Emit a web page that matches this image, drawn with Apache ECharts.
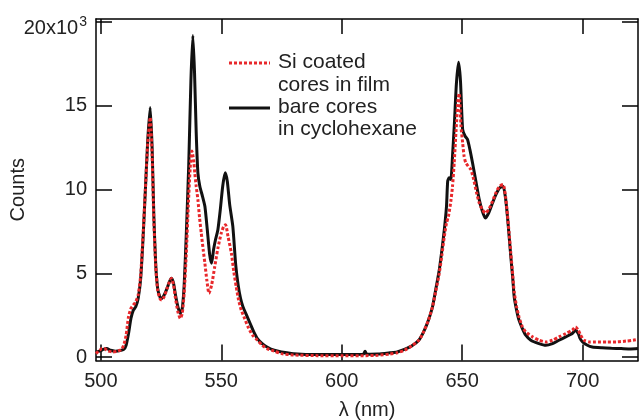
<!DOCTYPE html>
<html>
<head>
<meta charset="utf-8">
<script src="https://cdn.jsdelivr.net/npm/echarts@6/dist/echarts.min.js"></script>
<style>html,body{margin:0;padding:0;background:#fff}#c{width:639px;height:420px}</style>
</head>
<body>
<div id="c"></div>
<script>
// Tick values
var xTicks = [500, 550, 600, 650, 700];
var yTicks = [0, 5000, 10000, 15000, 20000];

// bare cores in cyclohexane (black)
var bareX = [498,499.5,501,502.5,504,506,508,509.5,510.5,511.5,512.5,513.5,514.5,515.5,516.5,517.5,518.5,519.5,520.5,521.3,522,522.8,523.6,524.5,525.3,526.3,527.5,528.5,529.3,530.2,531,532,533,533.8,534.6,535.5,536.5,537.4,538.2,538.9,539.6,540.3,541.1,542.2,543.2,544.2,545.2,546,546.8,547.6,548.6,549.6,550.6,551.6,552.5,553.5,554.8,556,557,558,559,560.5,562,563.5,565,567,569,572,575,580,590,600,605,609,609.7,610.4,615,620,623,626,629,632,634,636,637.7,639,640.5,641.6,642.6,643.5,644,644.6,645.3,646,646.8,647.6,648.5,649.3,650.2,651.2,652.2,653.2,654.3,655.7,657.1,658.4,659.6,661,662.6,664,665.5,667,668,668.8,669.5,670.2,671,671.6,672.6,673.6,675,676.4,678.5,681.9,684.7,687.5,690.2,693,695.7,697.1,698.2,699,700,702,704,708,712,716,720,723];
var bareY = [300,350,450,500,400,350,380,450,700,1400,2300,2800,3000,3500,4600,7000,10000,13000,14900,12500,8500,5500,4100,3600,3500,3700,4100,4500,4700,4400,3700,3000,2600,2900,4300,7400,11500,16500,19200,17000,13400,11000,10200,9600,9000,7600,6100,5600,6400,7000,7600,8800,10200,11000,10500,9100,7800,5500,4300,3500,3000,2500,2000,1500,1100,800,600,400,300,200,150,150,150,170,350,170,180,250,300,450,650,1000,1500,2200,3000,4000,5200,6400,7600,9000,10500,10700,10600,12000,14000,16300,17600,16500,13600,13200,13000,12400,11600,10500,9400,8700,8300,8600,9200,9700,10100,10200,9500,8400,7200,6000,4700,3600,2800,2200,1700,1300,1000,800,700,800,1000,1200,1400,1600,1400,1100,900,700,600,550,520,500,480,500];

// Si coated cores in film (red dotted)
var coatedX = [498,499.5,500.5,501.5,503,505,507,508.5,509.5,510.5,511.5,512.5,513.5,514.5,515.5,516.5,517.5,518.5,519.5,520.5,521.3,522,522.8,523.6,524.5,525.3,526.3,527.5,528.5,529.3,530.2,531,532,533,533.8,534.6,535.5,536.3,537.1,537.8,538.5,539,539.6,540.3,541,541.7,542.5,543.2,544,544.9,546,547.3,548.6,550,551,551.8,552.8,554.2,555.2,556.2,557.2,558.3,559.7,561.1,563,565,567,569,572,575,580,590,600,610,615,620,623,626,629,632,634,636,637.7,639,640.5,641.6,642.6,643.5,644.3,645.3,646,646.7,647.5,648.3,648.8,649.5,650.2,650.8,651.5,652.5,653.6,654.8,656,657.1,658.4,659.6,661,662.6,664,665.5,667,668,668.8,669.5,670.2,671,671.6,672.6,673.6,675,676.4,679.2,682,684.7,687.5,690.2,693,695.7,697.1,698.2,699.2,700.6,703,705.4,710,714,718,721,723];
var coatedY = [200,400,500,500,350,300,350,450,700,1300,2400,2900,3100,3300,3700,4800,7200,10000,12800,14300,12000,8200,5400,4000,3500,3400,3600,4100,4500,4700,4300,3500,2700,2300,2600,3800,6200,9000,11300,12300,11800,11000,10200,9400,8300,7400,6400,5600,4600,3800,4300,5400,6500,7400,7800,7900,7200,6200,5100,4200,3400,2800,2300,1800,1300,1000,700,500,350,200,120,80,70,80,100,170,250,400,650,1000,1500,2200,3000,3900,5000,6100,7200,8000,8400,9300,10200,11600,13600,15400,15750,13800,12800,12000,11600,11400,11200,10600,9800,9200,8800,8600,8800,9300,9800,10200,10300,9600,8500,7400,6200,4900,3900,3000,2400,1800,1500,1200,1000,900,1000,1200,1400,1600,1800,1600,1300,1000,900,900,900,900,950,1000,1050];

// Legend text
var legendLines = ['Si coated', 'cores in film', 'bare cores', 'in cyclohexane'];
var xName = 'λ (nm)';
var yName = 'Counts';

function pairs(xs, ys) { return xs.map(function (x, i) { return [x, ys[i]]; }); }

var FONT = '"Liberation Sans", Arial, sans-serif';
var RED = '#e8282b';
var BLACK = '#111111';
var frame = { show: true, onZero: false, lineStyle: { color: '#000', width: 1.5 } };

var chart = echarts.init(document.getElementById('c'), null, { renderer: 'canvas' });
chart.setOption({
  animation: false,
  backgroundColor: '#fff',
  grid: { left: 96, right: 1, top: 19, bottom: 59.5, containLabel: false, outerBoundsMode: 'none' },
  xAxis: [{
    type: 'value', min: 498, max: 723, position: 'bottom',
    name: xName, nameLocation: 'middle', nameGap: 40, nameMoveOverlap: false,
    nameTextStyle: { fontFamily: FONT, fontSize: 20, color: '#222' },
    axisLine: frame,
    axisTick: { inside: true, length: 16, customValues: xTicks, lineStyle: { color: '#000', width: 1.5 } },
    axisLabel: { customValues: xTicks, fontFamily: FONT, fontSize: 20, color: '#222', margin: 11 },
    splitLine: { show: false }
  }, {
    type: 'value', min: 498, max: 723, position: 'top',
    axisLine: frame,
    axisTick: { inside: true, length: 15, customValues: xTicks, lineStyle: { color: '#000', width: 1.5 } },
    axisLabel: { show: false },
    splitLine: { show: false }
  }],
  yAxis: [{
    type: 'value', min: -210, max: 20190, position: 'left',
    name: yName, nameLocation: 'middle', nameGap: 68, nameRotate: 90, nameMoveOverlap: false,
    nameTextStyle: { fontFamily: FONT, fontSize: 20, color: '#222' },
    axisLine: frame,
    axisTick: { inside: true, length: 16, customValues: yTicks, lineStyle: { color: '#000', width: 1.5 } },
    axisLabel: {
      customValues: yTicks, fontFamily: FONT, fontSize: 20, color: '#222', margin: 9,
      formatter: function (v) { return v === 20000 ? '{a|20x10}{s|3}' : String(v / 1000); },
      rich: {
        a: { fontFamily: FONT, fontSize: 20, color: '#222', padding: [12, 0, 0, 0] },
        s: { fontFamily: FONT, fontSize: 14, color: '#222', padding: [0, 0, 0, 1] }
      }
    },
    splitLine: { show: false }
  }, {
    type: 'value', min: -210, max: 20190, position: 'right',
    axisLine: frame,
    axisTick: { inside: true, length: 16, customValues: yTicks, lineStyle: { color: '#000', width: 1.5 } },
    axisLabel: { show: false },
    splitLine: { show: false }
  }],
  series: [{
    name: 'bare cores in cyclohexane', type: 'line', xAxisIndex: 0, yAxisIndex: 0,
    data: pairs(bareX, bareY), showSymbol: false, symbol: 'none', smooth: 0.2,
    lineStyle: { color: BLACK, width: 3 }, z: 2
  }, {
    name: 'Si coated cores in film', type: 'line', xAxisIndex: 0, yAxisIndex: 0,
    data: pairs(coatedX, coatedY), showSymbol: false, symbol: 'none', smooth: 0.2,
    lineStyle: { color: RED, width: 3, type: [3, 2] }, z: 3
  }],
  graphic: [
    { type: 'line', shape: { x1: 229, y1: 63, x2: 270, y2: 63 }, style: { stroke: RED, lineWidth: 3, lineDash: [3, 2] } },
    { type: 'line', shape: { x1: 229, y1: 108, x2: 270, y2: 108 }, style: { stroke: BLACK, lineWidth: 3 } },
    { type: 'text', left: 278, top: 52, style: { text: legendLines[0], font: '21px ' + FONT, fill: '#222' } },
    { type: 'text', left: 278, top: 75, style: { text: legendLines[1], font: '21px ' + FONT, fill: '#222' } },
    { type: 'text', left: 278, top: 97, style: { text: legendLines[2], font: '21px ' + FONT, fill: '#222' } },
    { type: 'text', left: 278, top: 119, style: { text: legendLines[3], font: '21px ' + FONT, fill: '#222' } }
  ]
});
</script>
</body>
</html>
